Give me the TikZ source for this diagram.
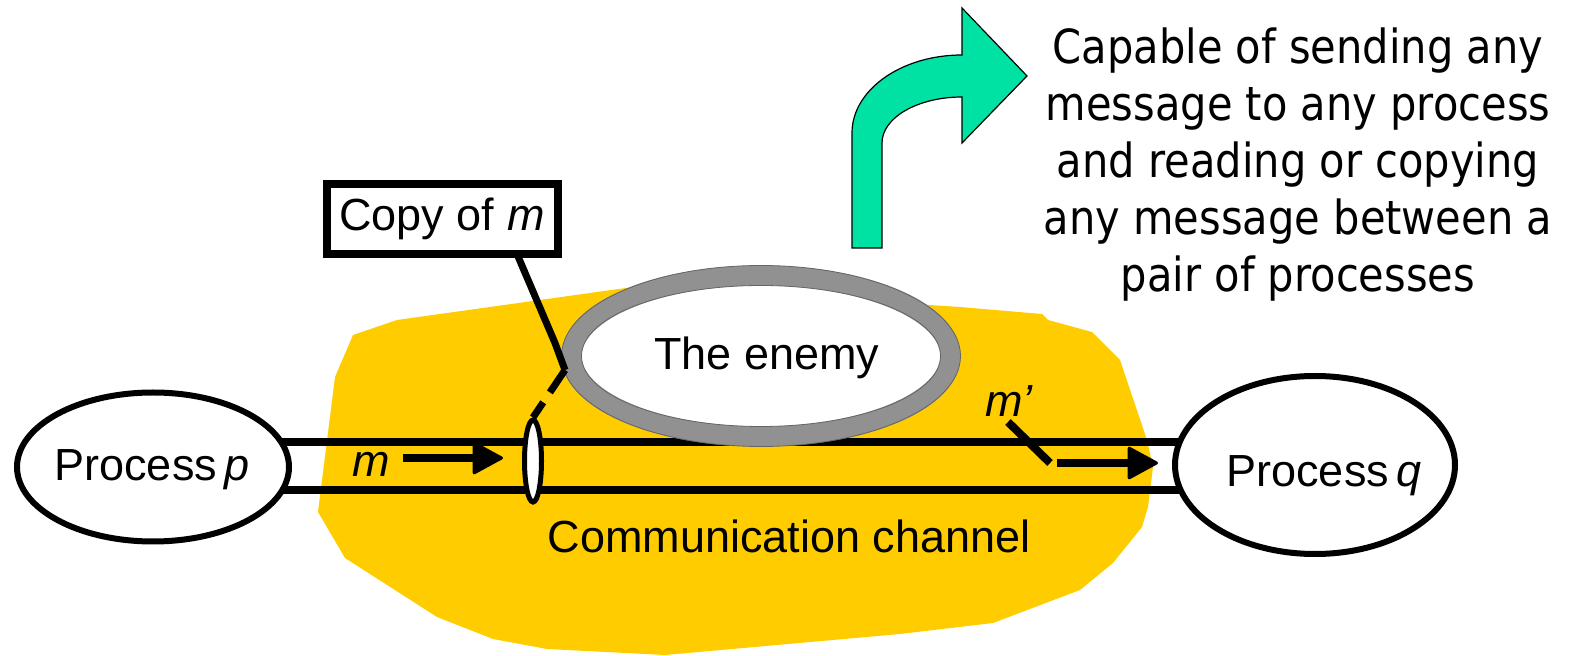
\documentclass[tikz,border=0pt]{standalone}
\usepackage{fontspec}
\setmainfont{Liberation Sans}
\newfontfamily\notefont[FakeStretch=0.885]{DejaVu Sans}
\usetikzlibrary{arrows.meta,shapes.geometric}
\definecolor{blob}{RGB}{255,204,0}
\definecolor{ring}{RGB}{145,145,145}
\definecolor{turn}{RGB}{0,226,164}
\begin{document}
\begin{tikzpicture}[x=1pt,y=1pt,
  lbl/.style={font=\fontsize{45}{54}\selectfont, inner sep=0pt},
  proc/.style={ellipse, draw, line width=6pt, fill=white, inner sep=0pt},
  chan/.style={line width=8pt},
  msg/.style={line width=8pt, -{Triangle[length=32pt,width=34pt,round,line width=3pt]}},
  wire/.style={line width=7pt, line join=round},
]
\useasboundingbox (0,0) rectangle (1572,656);

% the area covered by the enemy
\fill[blob] (397,336) -- (640,370) -- (960,349) -- (1042,342) -- (1048,336)
  -- (1092,324) -- (1120,296) -- (1147,216) -- (1153,189) -- (1148,149)
  -- (1142,129) -- (1113,93) -- (1080,66) -- (993,33) -- (900,22) -- (665,1)
  -- (547,7) -- (493,17) -- (437,39) -- (345,98) -- (318,144) -- (335,279)
  -- (353,321) -- cycle;

% processes and the channel between them
\coordinate (pc) at (153,189);
\coordinate (qc) at (1315,191);
\draw[chan] (pc |- 0,214) -- (qc |- 0,214);
\draw[chan] (pc |- 0,166) -- (qc |- 0,166);
\node[proc, minimum width=272, minimum height=149] (pE) at (pc) {};
\node[proc, minimum width=280, minimum height=178] (qE) at (qc) {};
\node[lbl, anchor=base] (pT) at (152,175) {Process\,\textit{p}};
\node[lbl, anchor=base] (qT) at (1324,169) {Process\,\textit{q}};
\node[lbl, anchor=base] (chT) at (789,103) {Communication channel};

% the enemy
\node[ellipse, draw=ring, line width=20pt, fill=white, inner sep=0pt,
      minimum width=379, minimum height=161] (enemy) at (761,300) {};
\draw[ring!70!black, line width=0.8pt] (enemy.center) ellipse [x radius=199.5, y radius=90.5];
\draw[ring!70!black, line width=0.8pt] (enemy.center) ellipse [x radius=179.5, y radius=70.5];
\node[lbl, anchor=base] (enemyT) at (767,286) {The enemy};

% tap on the channel
\node[ellipse, draw, line width=5pt, fill=white, inner sep=0pt,
      minimum width=17, minimum height=82] (tap) at (533,195) {};

% message m
\coordinate (m0) at (403,198);
\coordinate (m1) at (503,198);
\draw[msg] (m0) -- (m1);
\node[lbl, anchor=base west] (mL) at (352,179) {\textit{m}};

% forged message m'
\coordinate (d0) at (1008,234);
\coordinate (d1) at (1050,193);
\coordinate (a0) at (1057,193);
\coordinate (a1) at (1158,193);
\draw[chan] (d0) -- (d1);
\draw[msg] (a0) -- (a1);
\node[lbl, anchor=base west] (mpL) at (985,239) {\textit{m’}};

% the copy taken off the channel
\node[draw, line width=8pt, minimum width=231, minimum height=70, inner sep=0pt,
      font=\fontsize{45}{54}\selectfont] (copy) at (442,437) {Copy of \textit{m}};
\coordinate (k1) at (555,313);
\coordinate (k2) at (565,286);
\draw[wire] ([xshift=75pt,yshift=4pt]copy.south) -- (k1) -- (k2);
\draw[wire, dash pattern=on 27pt off 12pt] (k2) -- (tap.north);

% bent arrow pointing at the note
\filldraw[fill=turn, draw=black, line width=1.2pt]
  (852,408) -- (852,523) arc[start angle=180, end angle=90, x radius=110, y radius=78]
  -- (962,648) -- (1027,580) -- (962,513) -- (962,559)
  arc[start angle=90, end angle=180, x radius=80, y radius=46]
  -- (882,408) -- cycle;
\node[font=\notefont\fontsize{47}{57}\selectfont, align=center, anchor=north, inner sep=0pt]
  (note) at (1298,628) {Capable of sending any\\message to any process\\and reading or copying\\any message between a\\pair of processes};
\end{tikzpicture}
\end{document}
